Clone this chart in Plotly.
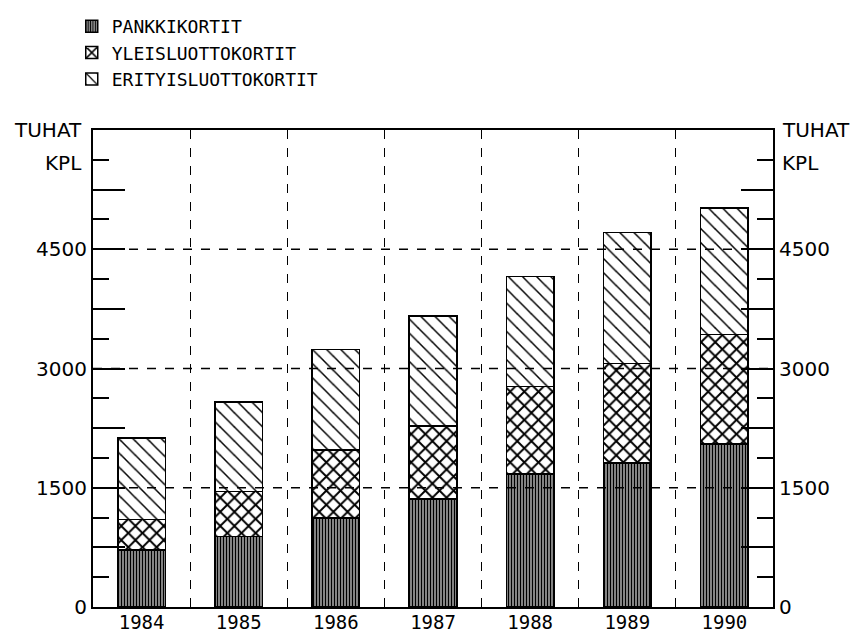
import plotly.graph_objects as go

years = ["1984", "1985", "1986", "1987", "1988", "1989", "1990"]
pankkikortit = [720, 890, 1120, 1360, 1670, 1810, 2050]
yleisluottokortit = [380, 560, 855, 915, 1105, 1250, 1375]
erityisluottokortit = [1025, 1130, 1265, 1385, 1385, 1650, 1595]

series_names = ["PANKKIKORTIT", "YLEISLUOTTOKORTIT", "ERITYISLUOTTOKORTIT"]
tick_vals = [0, 750, 1500, 2250, 3000, 3750, 4500, 5250, 6000]
tick_text = ["0", "", "1500", "", "3000", "", "4500", "", ""]
grid_vals = [1500, 3000, 4500]
unit_lines = ["TUHAT", "KPL"]
unit_vals = [6000, 5580]

FONT = "DejaVu Sans"
MONO = "DejaVu Sans Mono"

fig = go.Figure()
fig.add_trace(go.Bar(
    x=years, y=pankkikortit, name=series_names[0],
    marker=dict(color="white", line=dict(color="black", width=1.5),
                pattern=dict(shape="|", size=3, solidity=0.66,
                             fgcolor="black", bgcolor="white", fillmode="replace")),
))
fig.add_trace(go.Bar(
    x=years, y=yleisluottokortit, name=series_names[1],
    marker=dict(color="white", line=dict(color="black", width=1.5),
                pattern=dict(shape="x", size=10, solidity=0.35,
                             fgcolor="black", bgcolor="white", fillmode="replace")),
))
fig.add_trace(go.Bar(
    x=years, y=erityisluottokortit, name=series_names[2],
    marker=dict(color="white", line=dict(color="black", width=1.5),
                pattern=dict(shape="\\", size=10, solidity=0.15,
                             fgcolor="black", bgcolor="white", fillmode="replace")),
))
# invisible trace to anchor the right-hand axis
fig.add_trace(go.Scatter(x=years, y=pankkikortit, yaxis="y2", mode="none",
                         showlegend=False, hoverinfo="skip"))

yax_common = dict(
    range=[0, 6000], tickvals=tick_vals, ticktext=tick_text,
    ticks="inside", ticklen=32, tickwidth=2, tickcolor="black",
    minor=dict(dtick=375, tick0=0, ticks="inside", ticklen=16,
               tickwidth=2, tickcolor="black", showgrid=False),
    showgrid=False, zeroline=False, showline=True, linecolor="black", linewidth=2,
    tickfont=dict(family=FONT, size=20, color="black"),
    fixedrange=True,
)

fig.update_layout(
    width=850, height=633,
    margin=dict(l=85, r=85, t=122, b=34, autoexpand=False),
    paper_bgcolor="white", plot_bgcolor="white",
    barmode="stack", bargap=0.51,
    showlegend=True,
    legend=dict(xref="container", yref="container", x=0.075, y=1.012,
                xanchor="left", yanchor="top", traceorder="normal",
                font=dict(family=MONO, size=18, color="black"),
                bgcolor="rgba(0,0,0,0)", tracegroupgap=0),
    xaxis=dict(
        type="category", tickson="boundaries", ticks="", showgrid=True,
        griddash="dash", gridcolor="black", gridwidth=1.2,
        showline=True, mirror=True, linecolor="black", linewidth=2,
        tickfont=dict(family=MONO, size=19, color="black"),
        ticklabelstandoff=-3,
        fixedrange=True,
    ),
    yaxis=dict(side="left", **yax_common),
    yaxis2=dict(side="right", overlaying="y", anchor="x", **yax_common),
)

for gv in grid_vals:
    fig.add_shape(type="line", xref="paper", yref="y", x0=0, x1=1, y0=gv, y1=gv,
                  line=dict(color="black", width=1.5, dash="dash"), layer="above")

for txt, uv in zip(unit_lines, unit_vals):
    fig.add_annotation(text=txt, xref="paper", yref="y", x=0, y=uv,
                       xanchor="right", yanchor="middle", xshift=-9, showarrow=False,
                       font=dict(family=FONT, size=20, color="black"))
    fig.add_annotation(text=txt, xref="paper", yref="y", x=1, y=uv,
                       xanchor="left", yanchor="middle", xshift=7, showarrow=False,
                       font=dict(family=FONT, size=20, color="black"))

fig.write_html("out.html")
